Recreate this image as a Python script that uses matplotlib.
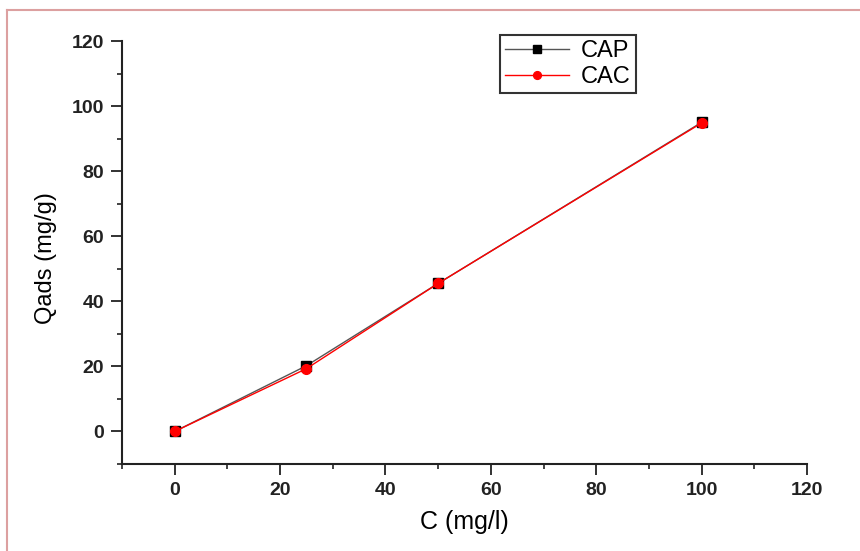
import matplotlib
matplotlib.use("Agg")
import matplotlib.pyplot as plt
from matplotlib.lines import Line2D
from matplotlib.ticker import MultipleLocator

conc = [0, 25, 50, 100]
cap = [0, 20.2, 45.5, 95.0]
cac = [0, 19.3, 45.5, 94.8]
series_names = ["CAP", "CAC"]
x_label = "C (mg/l)"
y_label = "Qads (mg/g)"

plt.rcParams['font.family'] = ['Liberation Sans', 'DejaVu Sans']

fig = plt.figure(figsize=(8.6, 5.51), dpi=100)
ax = fig.add_axes([122/860, 1-464/551, (807-122)/860, (464-41)/551])

ax.plot(conc, cap, color='#555555', lw=1.0, marker='s', ms=7, mfc='black', mec='black', label=series_names[0])
ax.plot(conc, cac, color='red', lw=1.0, marker='o', ms=7, mfc='red', mec='red', label=series_names[1])

ax.set_xlim(-10, 120)
ax.set_ylim(-10, 120)
ax.xaxis.set_major_locator(MultipleLocator(20))
ax.xaxis.set_minor_locator(MultipleLocator(10))
ax.yaxis.set_major_locator(MultipleLocator(20))
ax.yaxis.set_minor_locator(MultipleLocator(10))
for s in ['top', 'right']:
    ax.spines[s].set_visible(False)
for s in ['left', 'bottom']:
    ax.spines[s].set_linewidth(1.5)
    ax.spines[s].set_color('#222222')
ax.tick_params(which='major', direction='out', length=8, width=1.3, colors='#222222', labelsize=14, pad=5)
ax.tick_params(which='minor', direction='out', length=3.5, width=1.2, colors='#222222')
for lab in ax.get_xticklabels() + ax.get_yticklabels():
    lab.set_fontweight('bold')
ax.set_xlabel(x_label, fontsize=18)
ax.set_ylabel(y_label, fontsize=17)
ax.xaxis.set_label_coords(0.5, -0.108)
ax.yaxis.set_label_coords(-0.095, 0.487)

leg = ax.legend(loc='upper left', bbox_to_anchor=(0.552, 1.015), fontsize=17, frameon=True, fancybox=False,
                edgecolor='black', handlelength=2.7, borderpad=0.22, labelspacing=0.18, handletextpad=0.5,
                borderaxespad=0.0, markerscale=0.8)
leg.get_frame().set_linewidth(1.5)

border = '#dca0a0'
fig.add_artist(Line2D([7/860, 1.0], [1-10/551, 1-10/551], color=border, lw=1.5, transform=fig.transFigure))
fig.add_artist(Line2D([7/860, 7/860], [0, 1-10/551], color=border, lw=1.5, transform=fig.transFigure))

fig.savefig('out.png', dpi=100)
